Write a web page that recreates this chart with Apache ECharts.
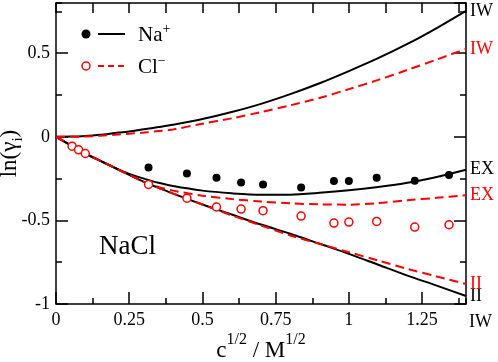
<!DOCTYPE html>
<html>
<head>
<meta charset="utf-8">
<script src="https://cdn.jsdelivr.net/npm/echarts@6/dist/echarts.min.js"></script>
<style>
  html, body { margin: 0; padding: 0; background: #fff; }
  #main { width: 498px; height: 362px; }
</style>
</head>
<body>
<div id="main"></div>
<script>
// data
var curveX = [0, 0.05, 0.1, 0.15, 0.2, 0.25, 0.3, 0.35, 0.4, 0.5, 0.6, 0.7, 0.8, 0.9, 1.0, 1.1, 1.2, 1.3, 1.4];
var iwNa = [0, 0.001, 0.005, 0.012, 0.022, 0.032, 0.045, 0.058, 0.072, 0.106, 0.148, 0.197, 0.255, 0.32, 0.393, 0.47, 0.555, 0.65, 0.753];
var iwCl = [0, 0, 0.002, 0.006, 0.012, 0.018, 0.025, 0.034, 0.044, 0.078, 0.11, 0.148, 0.188, 0.232, 0.285, 0.34, 0.4, 0.462, 0.526];
var exNa = [0, -0.05, -0.1, -0.143, -0.185, -0.222, -0.25, -0.275, -0.295, -0.322, -0.338, -0.347, -0.346, -0.335, -0.32, -0.3, -0.275, -0.24, -0.197];
var exCl = [0, -0.05, -0.1, -0.143, -0.185, -0.228, -0.27, -0.3, -0.322, -0.352, -0.372, -0.387, -0.398, -0.404, -0.406, -0.397, -0.38, -0.365, -0.35];
var iiNa = [0, -0.05, -0.1, -0.143, -0.185, -0.228, -0.27, -0.305, -0.34, -0.405, -0.465, -0.525, -0.58, -0.64, -0.7, -0.765, -0.83, -0.89, -0.952];
var iiCl = [0, -0.05, -0.1, -0.143, -0.185, -0.228, -0.27, -0.305, -0.34, -0.405, -0.47, -0.53, -0.59, -0.64, -0.69, -0.74, -0.79, -0.835, -0.88];

var naX = [0.316, 0.447, 0.548, 0.632, 0.707, 0.837, 0.949, 1.0, 1.095, 1.225, 1.342];
var naY = [-0.183, -0.219, -0.245, -0.273, -0.285, -0.303, -0.265, -0.265, -0.245, -0.263, -0.229];
var clX = [0.055, 0.077, 0.1, 0.316, 0.447, 0.548, 0.632, 0.707, 0.837, 0.949, 1.0, 1.095, 1.225, 1.342];
var clY = [-0.056, -0.078, -0.1, -0.285, -0.367, -0.42, -0.432, -0.442, -0.474, -0.516, -0.51, -0.506, -0.54, -0.526];

var FONT = "'Liberation Serif', 'Times New Roman', serif";

function pairs(xs, ys) {
  return xs.map(function (x, i) { return [x, ys[i]]; });
}

function curve(name, ys, color, dashed, label) {
  return {
    name: name,
    type: "line",
    data: pairs(curveX, ys),
    smooth: 0.3,
    showSymbol: false,
    clip: false,
    lineStyle: { color: color, width: 2, type: dashed ? [9, 5] : "solid" },
    endLabel: {
      show: true,
      formatter: label,
      color: color,
      fontFamily: FONT,
      fontSize: 18,
      distance: 4
    },
    z: 2
  };
}

var tickLine = { color: "#000", width: 1.5 };

// extra axes only carry ticks / frame lines
function plainAxis(pos, max, interval, len, showLine) {
  return {
    type: "value", position: pos, min: -1, max: max, interval: interval,
    axisLine: { show: showLine, onZero: false, lineStyle: tickLine },
    axisTick: { inside: true, length: len, lineStyle: tickLine },
    axisLabel: { show: false },
    splitLine: { show: false }
  };
}

var xTop = plainAxis("top", 1.4, 0.125, 10, true);
xTop.min = 0;
var xMinor = plainAxis("bottom", 1.4, 0.125, 6, false);
xMinor.min = 0;

var option = {
  animation: false,
  grid: { left: 56, right: 32, top: 3, bottom: 58, outerBoundsMode: "none", containLabel: false },
  xAxis: [
    {
      type: "value", position: "bottom", min: 0, max: 1.4, interval: 0.25,
      axisLine: { onZero: false, lineStyle: tickLine },
      axisTick: { inside: true, length: 12, lineStyle: tickLine },
      axisLabel: { fontFamily: FONT, fontSize: 18, color: "#000", margin: 7, showMaxLabel: false },
      splitLine: { show: false },
      name: "{b|c}{s|1/2}{b| / M}{s|1/2}",
      nameLocation: "middle",
      nameMoveOverlap: false,
      nameGap: 28,
      nameTextStyle: {
        rich: {
          b: { fontFamily: FONT, fontSize: 23, color: "#000", lineHeight: 30, verticalAlign: "bottom" },
          s: { fontFamily: FONT, fontSize: 16, color: "#000", lineHeight: 16, verticalAlign: "top" }
        }
      }
    },
    xMinor,
    xTop
  ],
  yAxis: [
    {
      type: "value", position: "left", min: -1, max: 0.8, interval: 0.5,
      axisLine: { onZero: false, lineStyle: tickLine },
      axisTick: { inside: true, length: 12, lineStyle: tickLine },
      axisLabel: { fontFamily: FONT, fontSize: 18, color: "#000", margin: 6, showMaxLabel: false },
      splitLine: { show: false },
      name: "{t|ln(γ}{i|i}{t|)}",
      nameLocation: "middle",
      nameMoveOverlap: false,
      nameGap: 30,
      nameTextStyle: {
        rich: {
          t: { fontFamily: FONT, fontSize: 23, color: "#000", lineHeight: 28, verticalAlign: "top" },
          i: { fontFamily: FONT, fontSize: 15, color: "#000", lineHeight: 15, verticalAlign: "bottom" }
        }
      }
    },
    plainAxis("left", 0.8, 0.25, 6, false),
    plainAxis("right", 0.8, 0.5, 12, true),
    plainAxis("right", 0.8, 0.25, 6, false)
  ],
  series: [
    curve("IW Na", iwNa, "#000", false, "IW"),
    curve("IW Cl", iwCl, "#ff0000", true, "IW"),
    curve("EX Na", exNa, "#000", false, "EX"),
    curve("EX Cl", exCl, "#ff0000", true, "EX"),
    curve("II Na", iiNa, "#000", false, "II"),
    curve("II Cl", iiCl, "#ff0000", true, "II"),
    {
      name: "Na+", type: "scatter", data: pairs(naX, naY),
      symbol: "circle", symbolSize: 8,
      itemStyle: { color: "#000", opacity: 1 }, z: 3
    },
    {
      name: "Cl-", type: "scatter", data: pairs(clX, clY),
      symbol: "circle", symbolSize: 8,
      itemStyle: { color: "#fff", borderColor: "#ff0000", borderWidth: 1.5, opacity: 1 }, z: 3
    }
  ],
  // legend and plain text notes
  graphic: [
    { type: "circle", shape: { cx: 86, cy: 34, r: 4.5 }, style: { fill: "#000" } },
    { type: "line", shape: { x1: 98, y1: 34, x2: 125, y2: 34 }, style: { stroke: "#000", lineWidth: 2 } },
    {
      type: "text", left: 138, top: 22,
      style: {
        text: "{a|Na}{s|+}",
        rich: {
          a: { fontFamily: FONT, fontSize: 21, fill: "#000", lineHeight: 24, verticalAlign: "bottom" },
          s: { fontFamily: FONT, fontSize: 14, fill: "#000", lineHeight: 14, verticalAlign: "top" }
        }
      }
    },
    { type: "circle", shape: { cx: 86, cy: 66, r: 4 }, style: { fill: "#fff", stroke: "#ff0000", lineWidth: 1.5 } },
    { type: "line", shape: { x1: 98, y1: 66, x2: 125, y2: 66 }, style: { stroke: "#ff0000", lineWidth: 2, lineDash: [6, 4] } },
    {
      type: "text", left: 138, top: 54,
      style: {
        text: "{a|Cl}{s|−}",
        rich: {
          a: { fontFamily: FONT, fontSize: 21, fill: "#000", lineHeight: 24, verticalAlign: "bottom" },
          s: { fontFamily: FONT, fontSize: 14, fill: "#000", lineHeight: 14, verticalAlign: "top" }
        }
      }
    },
    { type: "text", left: 99, top: 233, style: { text: "NaCl", fontFamily: FONT, fontSize: 27, fill: "#000" } },
    { type: "text", left: 469, top: 313, style: { text: "IW", fontFamily: FONT, fontSize: 18, fill: "#000" } }
  ]
};

var myChart = echarts.init(document.getElementById("main"));
myChart.setOption(option);
</script>
</body>
</html>
